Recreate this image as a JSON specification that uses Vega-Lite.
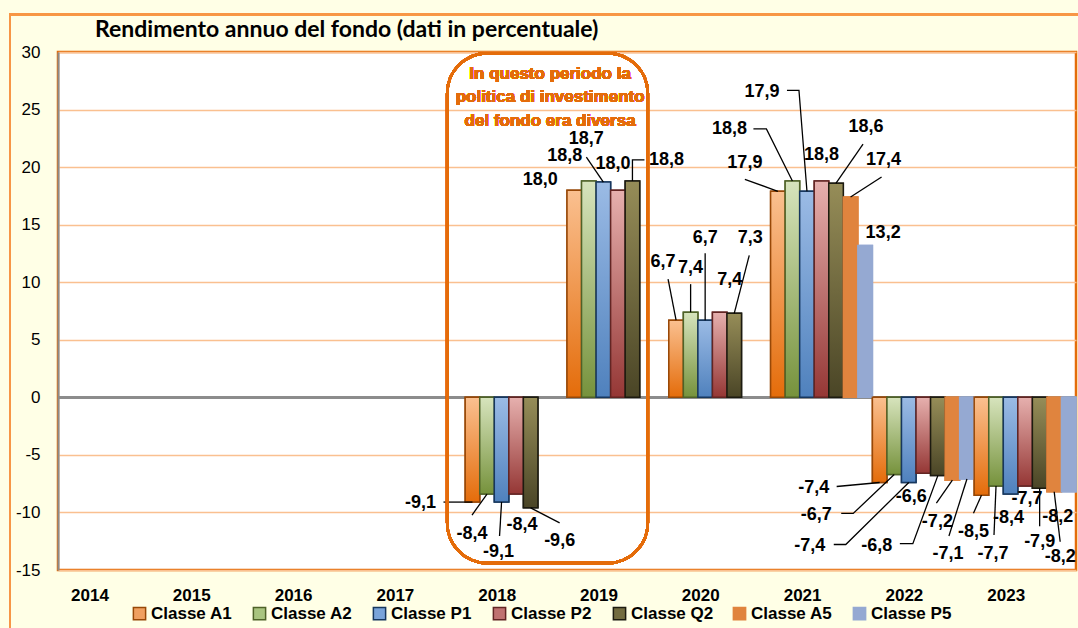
{
  "$schema": "https://vega.github.io/schema/vega-lite/v6.json",
  "width": 1018,
  "height": 518,
  "autosize": {"type": "none"},
  "padding": {"left": 58, "top": 52, "right": 2, "bottom": 58},
  "background": "#FFFFE6",
  "title": {
    "text": "Rendimento annuo del fondo (dati in percentuale)",
    "anchor": "start",
    "frame": "group",
    "dx": 37,
    "dy": 58,
    "offset": 11,
    "baseline": "alphabetic",
    "font": "Lato",
    "fontSize": 23,
    "fontWeight": "bold",
    "color": "#000000"
  },
  "params": [
    {
      "name": "L",
      "value": {
        "2018": {
          "Classe A1": [-52, 1, "M0,0L-29,0"],
          "Classe A2": [-15, 40, "M0,0L-15,21"],
          "Classe P1": [-3, 50, "M0,0L-2,34"],
          "Classe P2": [6, 31, ""],
          "Classe Q2": [29, 33, "M0,0L29,15"]
        },
        "2019": {
          "Classe A1": [-34, -10, ""],
          "Classe A2": [-24, -25, ""],
          "Classe P1": [-17, -43, "M0,0L-17,-25"],
          "Classe P2": [-5, -26, ""],
          "Classe Q2": [34, -21, "M0,0L0,-21L12,-21"]
        },
        "2020": {
          "Classe A1": [-13, -58, "M0,0L-8,-41"],
          "Classe A2": [0, -44, "M0,0L0,-28"],
          "Classe P1": [0, -82, "M0,0L0,-67"],
          "Classe P2": [10, -32, ""],
          "Classe Q2": [16, -75, "M0,0L15,-58"]
        },
        "2021": {
          "Classe A1": [-33, -28, "M0,0L-33,-12"],
          "Classe A2": [-63, -52, "M0,0L-26,-52L-39,-52"],
          "Classe P1": [-45, -99, "M0,0L-8,-101L-20,-101"],
          "Classe P2": [0, -26, ""],
          "Classe Q2": [30, -56, "M0,0L27,-39"],
          "Classe A5": [33, -37, "M0,0L31,-20"],
          "Classe P5": [18, -12, ""]
        },
        "2022": {
          "Classe A1": [-66, 5, "M0,0L-43,4"],
          "Classe A2": [-78, 41, "M0,0L-41,39L-53,39"],
          "Classe P1": [-99, 63, "M0,0L-63,62L-75,62"],
          "Classe P2": [-12, 24, ""],
          "Classe Q2": [-61, 70, "M0,0L-25,68L-38,68"],
          "Classe A5": [-15, 42, "M0,0L-16,23"],
          "Classe P5": [-19, 75, "M0,0L-18,57"]
        },
        "2023": {
          "Classe A1": [-8, 37, "M0,0L-8,18"],
          "Classe A2": [-3, 68, "M0,0L-2,49"],
          "Classe P1": [-2, 24, ""],
          "Classe P2": [2, 13, ""],
          "Classe Q2": [0, 54, "M0,0L0,38"],
          "Classe A5": [6, 65, "M0,0L6,50"],
          "Classe P5": [-11, 25, ""]
        }
      }
    }
  ],
  "data": {
    "values": [
      {"year": "2018", "series": "Classe A1", "value": -9.1},
      {"year": "2018", "series": "Classe A2", "value": -8.4},
      {"year": "2018", "series": "Classe P1", "value": -9.1},
      {"year": "2018", "series": "Classe P2", "value": -8.4},
      {"year": "2018", "series": "Classe Q2", "value": -9.6},
      {"year": "2019", "series": "Classe A1", "value": 18.0},
      {"year": "2019", "series": "Classe A2", "value": 18.8},
      {"year": "2019", "series": "Classe P1", "value": 18.7},
      {"year": "2019", "series": "Classe P2", "value": 18.0},
      {"year": "2019", "series": "Classe Q2", "value": 18.8},
      {"year": "2020", "series": "Classe A1", "value": 6.7},
      {"year": "2020", "series": "Classe A2", "value": 7.4},
      {"year": "2020", "series": "Classe P1", "value": 6.7},
      {"year": "2020", "series": "Classe P2", "value": 7.4},
      {"year": "2020", "series": "Classe Q2", "value": 7.3},
      {"year": "2021", "series": "Classe A1", "value": 17.9},
      {"year": "2021", "series": "Classe A2", "value": 18.8},
      {"year": "2021", "series": "Classe P1", "value": 17.9},
      {"year": "2021", "series": "Classe P2", "value": 18.8},
      {"year": "2021", "series": "Classe Q2", "value": 18.6},
      {"year": "2021", "series": "Classe A5", "value": 17.4},
      {"year": "2021", "series": "Classe P5", "value": 13.2},
      {"year": "2022", "series": "Classe A1", "value": -7.4},
      {"year": "2022", "series": "Classe A2", "value": -6.7},
      {"year": "2022", "series": "Classe P1", "value": -7.4},
      {"year": "2022", "series": "Classe P2", "value": -6.6},
      {"year": "2022", "series": "Classe Q2", "value": -6.8},
      {"year": "2022", "series": "Classe A5", "value": -7.2},
      {"year": "2022", "series": "Classe P5", "value": -7.1},
      {"year": "2023", "series": "Classe A1", "value": -8.5},
      {"year": "2023", "series": "Classe A2", "value": -7.7},
      {"year": "2023", "series": "Classe P1", "value": -8.4},
      {"year": "2023", "series": "Classe P2", "value": -7.7},
      {"year": "2023", "series": "Classe Q2", "value": -7.9},
      {"year": "2023", "series": "Classe A5", "value": -8.2},
      {"year": "2023", "series": "Classe P5", "value": -8.2}
    ]
  },
  "layer": [
    {
      "mark": {"type": "rect", "fill": null, "stroke": "#F79646", "strokeWidth": 2, "xOffset": -48, "x2Offset": 20},
      "encoding": {
        "x": {"datum": "2014", "bandPosition": 0},
        "x2": {"datum": "2023", "bandPosition": 1},
        "y": {"datum": 33.27},
        "y2": {"datum": -25}
      }
    },
    {
      "mark": {"type": "rule", "color": "#8C8C8C", "strokeWidth": 2},
      "encoding": {"y": {"datum": 0}}
    },
    {
      "mark": {"type": "bar", "strokeWidth": 1.5},
      "encoding": {
        "x": {
          "field": "year",
          "type": "nominal",
          "scale": {"domain": ["2014","2015","2016","2017","2018","2019","2020","2021","2022","2023"], "paddingInner": 0, "paddingOuter": 0},
          "axis": {"title": null, "labelFont": "Liberation Sans", "labelFontSize": 17, "labelFontWeight": "bold", "labelColor": "#000000", "labelPadding": 17, "labelAngle": 0, "ticks": false, "domain": false, "grid": false, "labelBaseline": "top"}
        },
        "xOffset": {
          "field": "series",
          "type": "nominal",
          "scale": {"domain": ["Classe A1","Classe A2","Classe P1","Classe P2","Classe Q2","Classe A5","Classe P5"], "paddingInner": 0, "paddingOuter": 0}
        },
        "y": {
          "field": "value",
          "type": "quantitative",
          "scale": {"domain": [-15, 30], "nice": false},
          "axis": {"title": null, "values": [-15,-10,-5,0,5,10,15,20,25,30], "format": "d", "labelFont": "Liberation Sans", "labelFontSize": 17, "labelColor": "#000000", "labelPadding": 18, "ticks": false, "domain": true, "domainColor": "#8C8C8C", "domainWidth": 2, "grid": true, "gridColor": "#FAC090", "gridWidth": 1.5}
        },
        "fill": {
          "field": "series",
          "type": "nominal",
          "scale": {"domain": ["Classe A1","Classe A2","Classe P1","Classe P2","Classe Q2","Classe A5","Classe P5"], "range": ["#F0A060","#A9C47F","#7AA4D9","#C07270","#736C40","#E0843E","#95A9D2"]},
          "legend": {
            "title": null, "orient": "none", "legendX": 73, "legendY": 553, "direction": "horizontal", "columns": 7, "gridAlign": "all", "columnPadding": 16, "padding": 0,
            "symbolType": "square", "symbolSize": 150, "symbolStrokeWidth": 1.5,
            "labelFont": "Liberation Sans", "labelFontSize": 17, "labelFontWeight": "bold", "labelColor": "#000000", "labelOffset": 3, "labelLimit": 200,
            "encode": {
              "symbols": {
                "update": {
                  "fill": {"signal": "datum.value === 'Classe A1' ? {gradient: 'linear', x1: 0, y1: 0, x2: 0, y2: 1, stops: [{offset: 0, color: '#FAC090'}, {offset: 1, color: '#E46C0A'}]} : datum.value === 'Classe A2' ? {gradient: 'linear', x1: 0, y1: 0, x2: 0, y2: 1, stops: [{offset: 0, color: '#D7E4BD'}, {offset: 1, color: '#76923C'}]} : datum.value === 'Classe P1' ? {gradient: 'linear', x1: 0, y1: 0, x2: 0, y2: 1, stops: [{offset: 0, color: '#9BBBE5'}, {offset: 1, color: '#4F81BD'}]} : datum.value === 'Classe P2' ? {gradient: 'linear', x1: 0, y1: 0, x2: 0, y2: 1, stops: [{offset: 0, color: '#E6B0AE'}, {offset: 1, color: '#953735'}]} : datum.value === 'Classe Q2' ? {gradient: 'linear', x1: 0, y1: 0, x2: 0, y2: 1, stops: [{offset: 0, color: '#968D58'}, {offset: 1, color: '#4A4526'}]} : datum.value === 'Classe A5' ? '#E0843E' : '#95A9D2'"}
                }
              }
            }
          }
        },
        "stroke": {
          "field": "series",
          "type": "nominal",
          "scale": {"domain": ["Classe A1","Classe A2","Classe P1","Classe P2","Classe Q2","Classe A5","Classe P5"], "range": ["#984807","#4F6228","#17375E","#632523","#1D1B10","#E0843E","#95A9D2"]},
          "legend": {
            "title": null, "orient": "none", "legendX": 73, "legendY": 553, "direction": "horizontal", "columns": 7, "gridAlign": "all", "columnPadding": 16, "padding": 0,
            "symbolType": "square", "symbolSize": 150, "symbolStrokeWidth": 1.5,
            "labelFont": "Liberation Sans", "labelFontSize": 17, "labelFontWeight": "bold", "labelColor": "#000000", "labelOffset": 3, "labelLimit": 200
          }
        }
      }
    },
    {
      "mark": {"type": "bar", "strokeWidth": 1.5},
      "encoding": {
        "x": {"field": "year", "type": "nominal"},
        "xOffset": {"field": "series", "type": "nominal"},
        "y": {"field": "value", "type": "quantitative"},
        "fill": {
          "condition": [
            {"test": "datum.series === 'Classe A1'", "value": {"gradient": "linear", "x1": 0, "y1": 0, "x2": 0, "y2": 1, "stops": [{"offset": 0, "color": "#FAC090"}, {"offset": 1, "color": "#E46C0A"}]}},
            {"test": "datum.series === 'Classe A2'", "value": {"gradient": "linear", "x1": 0, "y1": 0, "x2": 0, "y2": 1, "stops": [{"offset": 0, "color": "#D7E4BD"}, {"offset": 1, "color": "#76923C"}]}},
            {"test": "datum.series === 'Classe P1'", "value": {"gradient": "linear", "x1": 0, "y1": 0, "x2": 0, "y2": 1, "stops": [{"offset": 0, "color": "#9BBBE5"}, {"offset": 1, "color": "#4F81BD"}]}},
            {"test": "datum.series === 'Classe P2'", "value": {"gradient": "linear", "x1": 0, "y1": 0, "x2": 0, "y2": 1, "stops": [{"offset": 0, "color": "#E6B0AE"}, {"offset": 1, "color": "#953735"}]}},
            {"test": "datum.series === 'Classe Q2'", "value": {"gradient": "linear", "x1": 0, "y1": 0, "x2": 0, "y2": 1, "stops": [{"offset": 0, "color": "#968D58"}, {"offset": 1, "color": "#4A4526"}]}},
            {"test": "datum.series === 'Classe A5'", "value": "#E0843E"}
          ],
          "value": "#95A9D2"
        },
        "stroke": {
          "condition": [
            {"test": "datum.series === 'Classe A1'", "value": "#984807"},
            {"test": "datum.series === 'Classe A2'", "value": "#4F6228"},
            {"test": "datum.series === 'Classe P1'", "value": "#17375E"},
            {"test": "datum.series === 'Classe P2'", "value": "#632523"},
            {"test": "datum.series === 'Classe Q2'", "value": "#1D1B10"},
            {"test": "datum.series === 'Classe A5'", "value": "#E0843E"}
          ],
          "value": "#95A9D2"
        }
      }
    },
    {
      "transform": [{"filter": "L[datum.year][datum.series][2] != ''"}],
      "mark": {"type": "point", "shape": {"expr": "L[datum.year][datum.series][2]"}, "size": 4, "filled": false, "fill": null, "stroke": "#000000", "strokeWidth": 1.3, "opacity": 1},
      "encoding": {
        "x": {"field": "year", "type": "nominal"},
        "xOffset": {"field": "series", "type": "nominal"},
        "y": {"field": "value", "type": "quantitative"}
      }
    },
    {
      "mark": {"type": "text", "font": "Liberation Sans", "fontSize": 18, "fontWeight": "bold", "color": "#000000", "align": "center", "baseline": "middle", "dx": {"expr": "L[datum.year][datum.series][0]"}, "dy": {"expr": "L[datum.year][datum.series][1]"}},
      "encoding": {
        "x": {"field": "year", "type": "nominal"},
        "xOffset": {"field": "series", "type": "nominal"},
        "y": {"field": "value", "type": "quantitative"},
        "text": {"field": "value", "type": "quantitative", "format": ".1f"}
      }
    },
    {
      "mark": {"type": "rect", "cornerRadius": 40, "fill": null, "stroke": "#E46C0A", "strokeWidth": 2.5, "xOffset": -18, "x2Offset": -21},
      "encoding": {
        "x": {"datum": "2018", "bandPosition": 0},
        "x2": {"datum": "2020", "bandPosition": 0},
        "y": {"datum": 29.9},
        "y2": {"datum": -14.4}
      }
    },
    {
      "mark": {"type": "text", "font": "Liberation Sans", "fontSize": 17, "fontWeight": "bold", "color": "#E46C0A", "align": "center", "baseline": "alphabetic", "lineHeight": 23.5, "dx": 34},
      "encoding": {
        "x": {"datum": "2018"},
        "y": {"datum": 27.69},
        "text": {"value": ["In questo periodo la", "politica di investimento", "del fondo era diversa"]}
      }
    }
  ],
  "config": {
    "view": {"stroke": "#E46C0A", "strokeWidth": 2.5, "fill": "#FFFFFF"},
    "locale": {"number": {"decimal": ",", "thousands": ".", "grouping": [3], "currency": ["€", ""], "minus": "-"}}
  }
}
